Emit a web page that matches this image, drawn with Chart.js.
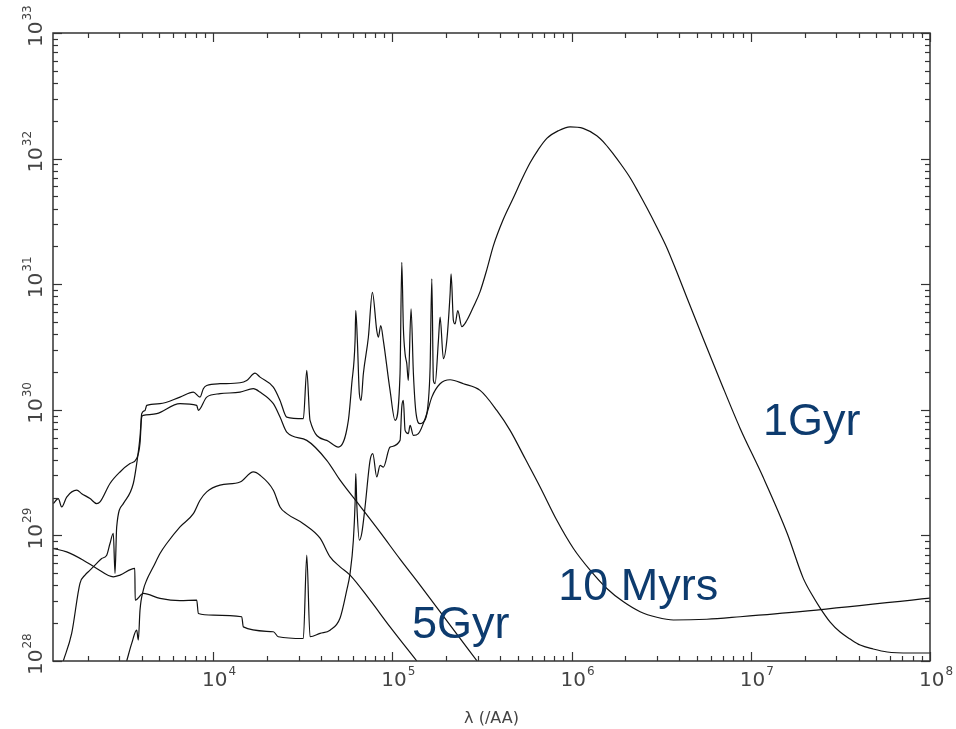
<!DOCTYPE html>
<html>
<head>
<meta charset="utf-8">
<script src="https://cdn.jsdelivr.net/npm/chart.js@4.4.1/dist/chart.umd.min.js"></script>
<style>
html, body { margin: 0; padding: 0; background: #fff; }
</style>
</head>
<body>
<canvas id="sed" width="956" height="729"></canvas>
<script>
// spectres : [lambda (AA), luminosite]
const sed1Gyr = [
  [1461, 1.0e28], [1627, 1.66e28], [1810, 4.15e28], [1931, 4.83e28], [2059, 5.29e28],
  [2244, 5.98e28], [2393, 6.55e28], [2552, 6.96e28], [2662, 8.62e28], [2777, 1.04e29],
  [2839, 4.98e28], [2901, 1.17e29], [3158, 1.79e29], [3591, 2.59e29], [3751, 3.73e29],
  [3914, 6.07e29], [4000, 9.31e29], [4174, 9.89e29], [4266, 1.084e30], [5060, 1.118e30],
  [6543, 1.262e30], [7766, 1.383e30], [8462, 1.262e30], [8829, 1.472e30], [9222, 1.563e30],
  [10940, 1.613e30], [14150, 1.642e30], [15420, 1.713e30], [17160, 1.957e30], [18300, 1.82e30],
  [21700, 1.515e30], [23650, 1.188e30], [25780, 8.75e29], [31910, 8.50e29], [33340, 2.06e30],
  [34770, 8.24e29], [43100, 5.71e29], [50030, 5.05e29], [56890, 8.24e29], [59430, 1.613e30],
  [62010, 3.56e30], [62570, 6.17e30], [63860, 3.56e30], [65530, 1.343e30], [66990, 1.188e30],
  [68980, 1.936e30], [73560, 3.78e30], [77450, 8.62e30], [81930, 4.28e30], [83630, 3.78e30],
  [86250, 4.69e30], [89180, 3.56e30], [97200, 1.427e30], [103700, 8.24e29], [110500, 1.936e30],
  [113000, 1.493e31], [115300, 4.54e30], [117900, 2.79e30], [120500, 2.33e30], [122900, 1.713e30],
  [127300, 6.36e30], [131200, 1.936e30], [135800, 9.31e29], [142900, 7.76e29], [149100, 7.98e29],
  [159100, 1.188e30], [162600, 2.18e30], [166200, 1.102e31], [169600, 1.713e30], [173300, 1.613e30],
  [180900, 3.56e30], [184800, 5.46e30], [192900, 2.55e30], [201500, 3.56e30], [210200, 8.37e30],
  [212900, 1.208e31], [219300, 5.14e30], [224100, 4.83e30], [232000, 6.17e30], [244300, 4.60e30],
  [260400, 5.14e30], [282400, 6.52e30], [309000, 8.73e30], [338100, 1.330e31], [366700, 2.03e31],
  [415300, 3.26e31], [474000, 4.88e31], [530000, 6.91e31], [587500, 9.26e31], [651100, 1.175e32],
  [728000, 1.450e32], [842000, 1.663e32], [982000, 1.790e32], [1.161e6, 1.741e32], [1.384e6, 1.518e32],
  [1.540e6, 1.311e32], [1.713e6, 1.086e32], [1.904e6, 8.85e31], [2.123e6, 7.04e31], [2.353e6, 5.45e31],
  [2.632e6, 4.06e31], [2.984e6, 2.87e31], [3.402e6, 1.954e31], [3.859e6, 1.260e31], [4.399e6, 7.83e30],
  [5.426e6, 3.69e30], [6.749e6, 1.713e30], [8.727e6, 7.11e29], [1.173e7, 2.90e29], [1.596e7, 1.041e29],
  [1.961e7, 4.57e28], [2.201e7, 3.35e28], [2.44e7, 2.64e28], [2.774e7, 2.04e28], [3.153e7, 1.70e28],
  [3.586e7, 1.496e28], [4.078e7, 1.34e28], [4.819e7, 1.246e28], [5.77e7, 1.179e28], [7.755e7, 1.158e28],
  [1e8, 1.158e28]
];

const sed10Myr = [
  [1285, 7.87e28], [1526, 7.39e28], [1889, 6.35e28], [2244, 5.46e28], [2777, 4.68e28],
  [3027, 4.83e28], [3660, 5.46e28], [3680, 3.05e28], [4083, 3.45e28], [5060, 3.15e28],
  [6543, 3.02e28], [8110, 3.05e28], [8279, 2.39e28], [10040, 2.32e28], [14460, 2.25e28],
  [14760, 1.87e28], [21700, 1.71e28], [23140, 1.56e28], [31910, 1.51e28], [33340, 6.96e28],
  [34770, 1.56e28], [39550, 1.66e28], [44970, 1.76e28], [51150, 2.2e28], [55740, 3.67e28],
  [58150, 4.98e28], [60670, 9.16e28], [62010, 1.79e29], [62570, 3.10e29], [63380, 1.79e29],
  [65530, 9.16e28], [67590, 1.04e29], [70510, 1.69e29], [75190, 3.96e29], [77850, 4.48e29],
  [81930, 2.92e29], [85480, 3.61e29], [89180, 3.50e29], [97200, 5.05e29], [110500, 5.71e29],
  [113000, 1.051e30], [115300, 1.188e30], [117900, 6.86e29], [122900, 6.46e29], [125700, 7.52e29],
  [131200, 6.26e29], [139900, 6.46e29], [155800, 9.31e29], [166200, 1.262e30], [184800, 1.613e30],
  [210200, 1.735e30], [249400, 1.613e30], [309000, 1.427e30], [383000, 9.89e29], [454300, 6.86e29],
  [551000, 4.09e29], [668000, 2.43e29], [828000, 1.32e29], [1.025e6, 7.87e28], [1.27e6, 5.29e28],
  [1.574e6, 3.78e28], [1.949e6, 2.96e28], [2.414e6, 2.47e28], [2.992e6, 2.23e28], [3.703e6, 2.12e28],
  [5.689e6, 2.15e28], [8.727e6, 2.25e28], [1.887e7, 2.47e28], [1e8, 3.17e28]
];

const sed5GyrA = [
  [1285, 1.79e29], [1370, 1.965e29], [1431, 1.685e29], [1526, 2.02e29], [1736, 2.29e29],
  [1851, 2.15e29], [2059, 1.965e29], [2244, 1.79e29], [2341, 1.846e29], [2662, 2.59e29],
  [3027, 3.20e29], [3443, 3.73e29], [3751, 4.09e29], [3914, 5.41e29], [4000, 8.75e29],
  [4083, 9.03e29], [4851, 9.31e29], [6543, 1.118e30], [8110, 1.084e30], [8279, 9.89e29],
  [9222, 1.262e30], [10940, 1.343e30], [14150, 1.383e30], [16790, 1.472e30], [18300, 1.383e30],
  [21700, 1.118e30], [23650, 8.75e29], [25780, 6.65e29], [33340, 5.71e29], [43100, 3.96e29],
  [51150, 2.75e29], [66130, 1.71e29], [85480, 1.06e29], [110500, 6.47e28], [142900, 4.02e28],
  [210200, 1.93e28], [297300, 1.0e28]
];

const sed5GyrB = [
  [3299, 1.0e28], [3518, 1.38e28], [3751, 1.76e28], [3830, 1.47e28], [3914, 2.54e28],
  [4083, 3.67e28], [4266, 4.41e28], [4645, 5.62e28], [5060, 7.18e28], [5515, 8.62e28],
  [6543, 1.17e29], [7766, 1.49e29], [8462, 1.905e29], [9222, 2.22e29], [10940, 2.51e29],
  [14150, 2.66e29], [16790, 3.20e29], [18300, 3.01e29], [21700, 2.29e29], [23650, 1.685e29],
  [25780, 1.49e29], [31910, 1.24e29], [39550, 9.50e28], [44970, 6.75e28], [51150, 5.62e28],
  [58150, 4.83e28], [75190, 3.05e28], [97200, 1.87e28], [137000, 1.0e28]
];

// decades des graduations
const xDecades = [4, 5, 6, 7, 8];
const yDecades = [28, 29, 30, 31, 32, 33];
const curveLabels = ["1Gyr", "10 Myrs", "5Gyr"];
const xTitle = "\u03bb (/AA)";

const toPoints = sed => sed.map(p => ({ x: p[0], y: p[1] }));

// axes style IDL : cadre, graduations vers l'interieur, etiquettes 10^n
const axesIDL = {
  id: "axesIDL",
  afterDraw(chart, args, opts) {
    const { ctx, chartArea: a, scales: { x, y } } = chart;
    ctx.save();
    ctx.strokeStyle = "#333";
    ctx.lineWidth = 1.5;
    ctx.strokeRect(a.left, a.top, a.right - a.left, a.bottom - a.top);

    ctx.lineWidth = 1.2;
    const seg = (x1, y1, x2, y2) => { ctx.beginPath(); ctx.moveTo(x1, y1); ctx.lineTo(x2, y2); ctx.stroke(); };

    for (let e = 3; e <= 8; e++) {
      for (let k = 1; k <= 9; k++) {
        const v = k * Math.pow(10, e);
        if (v < x.min || v > x.max) continue;
        const px = Math.round(x.getPixelForValue(v)) + 0.5;
        const len = k === 1 ? 9 : 5;
        seg(px, a.bottom, px, a.bottom - len);
        seg(px, a.top, px, a.top + len);
      }
    }
    for (let e = 28; e <= 33; e++) {
      for (let k = 1; k <= 9; k++) {
        const v = k * Math.pow(10, e);
        if (v < y.min || v > y.max) continue;
        const py = Math.round(y.getPixelForValue(v)) + 0.5;
        const len = k === 1 ? 9 : 5;
        seg(a.left, py, a.left + len, py);
        seg(a.right, py, a.right - len, py);
      }
    }

    ctx.fillStyle = "#444";
    ctx.textBaseline = "alphabetic";
    ctx.textAlign = "left";
    const big = "20px 'DejaVu Sans'";
    const small = "12px 'DejaVu Sans'";

    // etiquettes en x
    xDecades.forEach(n => {
      const px = x.getPixelForValue(Math.pow(10, n));
      ctx.font = big;
      ctx.fillText("10", px - 11, a.bottom + 25);
      const w = ctx.measureText("10").width;
      ctx.font = small;
      ctx.fillText(String(n), px - 11 + w + 1, a.bottom + 14);
    });

    // etiquettes en y (tournees)
    yDecades.forEach(n => {
      const py = y.getPixelForValue(Math.pow(10, n));
      ctx.save();
      ctx.translate(a.left - 11, py + 14);
      ctx.rotate(-Math.PI / 2);
      ctx.font = big;
      ctx.fillText("10", 0, 0);
      const w = ctx.measureText("10").width;
      ctx.font = small;
      ctx.fillText(String(n), w + 1, -11);
      ctx.restore();
    });

    // titre de l'axe x
    ctx.font = "16px 'DejaVu Sans'";
    ctx.textAlign = "center";
    ctx.fillText(xTitle, (a.left + a.right) / 2, a.bottom + 62);

    // noms des courbes
    ctx.font = "45px 'Liberation Sans'";
    ctx.fillStyle = "#0d3b6e";
    ctx.textAlign = "left";
    opts.anchors.forEach((p, i) => {
      ctx.fillText(curveLabels[i], x.getPixelForValue(p[0]), y.getPixelForValue(p[1]));
    });
    ctx.restore();
  }
};

const ctx = document.getElementById("sed").getContext("2d");

const lineStyle = {
  showLine: true, borderColor: "#111", borderWidth: 1.2, pointRadius: 0,
  cubicInterpolationMode: "monotone", fill: false
};

new Chart(ctx, {
  type: "scatter",
  data: {
    datasets: [
      { label: curveLabels[0], data: toPoints(sed1Gyr), ...lineStyle },
      { label: curveLabels[1], data: toPoints(sed10Myr), ...lineStyle },
      { label: curveLabels[2], data: toPoints(sed5GyrA), ...lineStyle },
      { label: curveLabels[2], data: toPoints(sed5GyrB), ...lineStyle }
    ]
  },
  options: {
    responsive: false,
    animation: false,
    devicePixelRatio: 1,
    layout: { padding: { left: 53, right: 26, top: 33, bottom: 68 } },
    plugins: {
      legend: { display: false },
      tooltip: { enabled: false },
      axesIDL: { anchors: [[1.17e7, 6.26e29], [8.42e5, 3.05e28], [1.29e5, 1.52e28]] }
    },
    scales: {
      x: { type: "logarithmic", min: 1280, max: 1e8, display: false },
      y: { type: "logarithmic", min: 1e28, max: 1e33, display: false }
    }
  },
  plugins: [axesIDL]
});
</script>
</body>
</html>
